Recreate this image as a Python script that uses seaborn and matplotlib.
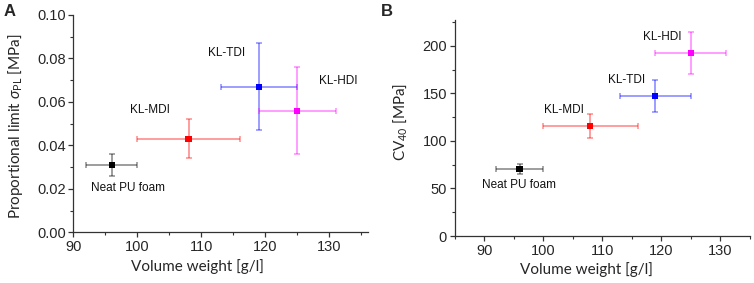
import numpy as np
import pandas as pd
import matplotlib
matplotlib.use("Agg")
import matplotlib.pyplot as plt
from matplotlib.ticker import MultipleLocator
import seaborn as sns

sns.set_theme(style="ticks")
plt.rcParams["font.family"] = ["Liberation Sans", "DejaVu Sans"]
plt.rcParams["mathtext.fontset"] = "custom"
plt.rcParams["mathtext.rm"] = "Lato"
plt.rcParams["mathtext.it"] = "Lato:italic"
plt.rcParams["mathtext.fallback"] = "stixsans"

# ---- data ----
samples = ["Neat PU foam", "KL-MDI", "KL-TDI", "KL-HDI"]
colors = ["#000000", "#ff0000", "#0000ff", "#ff00ff"]
volume_weight = [96, 108, 119, 125]
volume_weight_err = [4, 8, 6, 6]
prop_limit = [0.031, 0.043, 0.067, 0.056]
prop_limit_err = [0.005, 0.009, 0.020, 0.020]
cv40 = [70.5, 115.5, 147, 192]
cv40_err = [5, 12.7, 16.5, 22]

# label positions (data coords)
labA_x = [98.5, 102.0, 114.0, 131.4]
labA_y = [0.0206, 0.0563, 0.0824, 0.0696]
labB_x = [95.9, 103.6, 114.2, 120.1]
labB_y = [53.3, 132.6, 164.4, 209.5]

df = pd.DataFrame({"sample": samples, "vw": volume_weight, "vw_err": volume_weight_err,
                   "pl": prop_limit, "pl_err": prop_limit_err,
                   "cv": cv40, "cv_err": cv40_err})
palette = dict(zip(samples, colors))

fig = plt.figure(figsize=(7.54, 2.83), dpi=100)
axA = fig.add_axes([0.0972, 0.179, 0.3905, 0.768])
axB = fig.add_axes([0.603, 0.166, 0.3913, 0.763])

label_font = dict(family=["Lato", "DejaVu Sans"], fontsize=11)

def draw(ax, ycol, yerrcol, lx, ly):
    for i, r in df.iterrows():
        ax.errorbar(r["vw"], r[ycol], xerr=r["vw_err"], yerr=r[yerrcol],
                    fmt="none", ecolor=colors[i], alpha=0.45, elinewidth=1.2,
                    capsize=2.2, capthick=1.1, zorder=2)
    sns.scatterplot(data=df, x="vw", y=ycol, hue="sample", palette=palette,
                    marker="s", s=20, edgecolor="none", legend=False, ax=ax, zorder=3)
    for s, x, y in zip(samples, lx, ly):
        ax.text(x, y, s, ha="center", va="center", fontsize=8.5, color="#111111")
    sns.despine(ax=ax)
    for sp in ["left", "bottom"]:
        ax.spines[sp].set_linewidth(0.9)
        ax.spines[sp].set_color("#333333")
    ax.tick_params(which="major", direction="out", length=3.5, width=0.9,
                   labelsize=10.5, pad=2, color="#333333")
    ax.tick_params(which="minor", direction="out", length=2, width=0.8, color="#333333")

draw(axA, "pl", "pl_err", labA_x, labA_y)
axA.set_xlim(90, 136)
axA.set_ylim(0, 0.10)
axA.xaxis.set_major_locator(MultipleLocator(10))
axA.xaxis.set_minor_locator(MultipleLocator(5))
axA.yaxis.set_major_locator(MultipleLocator(0.02))
axA.yaxis.set_minor_locator(MultipleLocator(0.01))
axA.yaxis.set_major_formatter(matplotlib.ticker.FormatStrFormatter("%.2f"))
axA.set_xlabel("Volume weight [g/l]", **label_font)
axA.set_ylabel(r"Proportional limit $\sigma_{\mathrm{PL}}$ [MPa]", **label_font)
axA.xaxis.set_label_coords(0.42, -0.125)
axA.yaxis.set_label_coords(-0.164, 0.49)

draw(axB, "cv", "cv_err", labB_x, labB_y)
axB.set_xlim(85, 135)
axB.set_ylim(0, 227)
axB.xaxis.set_major_locator(MultipleLocator(10))
axB.xaxis.set_minor_locator(MultipleLocator(5))
axB.yaxis.set_major_locator(MultipleLocator(50))
axB.yaxis.set_minor_locator(MultipleLocator(25))
axB.set_xlabel("Volume weight [g/l]", **label_font)
axB.set_ylabel(r"CV$_{40}$ [MPa]", **label_font)
axB.xaxis.set_label_coords(0.448, -0.12)
axB.yaxis.set_label_coords(-0.155, 0.53)

fig.text(9.5 / 754, 1 - 11 / 283, "A", fontsize=12, fontweight="bold", ha="center", va="center")
fig.text(387 / 754, 1 - 11 / 283, "B", fontsize=12, fontweight="bold", ha="center", va="center")

fig.savefig("out.png", dpi=100)
